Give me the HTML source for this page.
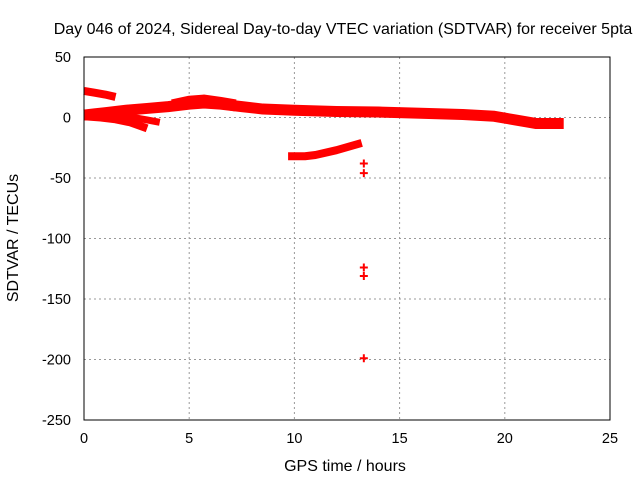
<!DOCTYPE html>
<html><head><meta charset="utf-8"><style>
body{margin:0;background:#fff}
svg{display:block;font-family:"Liberation Sans",sans-serif;font-size:14.5px}
.big{font-size:16px}
</style></head><body>
<svg width="640" height="480">
<text class="big" x="343" y="34" text-anchor="middle">Day 046 of 2024, Sidereal Day-to-day VTEC variation (SDTVAR) for receiver 5pta</text>
<g id="grid"></g>
<g id="marks"></g>
<rect x="84" y="57" width="526" height="363" fill="none" stroke="#000" stroke-width="1"/>
<g id="ticks"></g>
<text class="big" x="345" y="471" text-anchor="middle">GPS time / hours</text>
<text class="big" transform="translate(18,238) rotate(-90)" text-anchor="middle">SDTVAR / TECUs</text>
</svg>
<script>
const xTicks=[0,5,10,15,20,25];
const yTicks=[50,0,-50,-100,-150,-200,-250];
const trackUpperHours=[0,0.5,1,1.5];
const trackUpperValues=[22,20.5,19,17];
const trackMainHours=[0,0.5,1,2,3,4,5,5.7,6.5,7.5,8.5,10,12,14,16,18,19.5,20.5,21.5,22.8];
const trackMainValues=[2,3,4,6,7.5,9,11,12,11,9,7,6,5,4.5,3.5,2.5,1,-2,-5,-5];
const trackHumpHours=[4.2,5,5.7,6.5,7.2];
const trackHumpValues=[10,13,14,12,10];
const trackDipHours=[0,0.8,1.5,2.2,3];
const trackDipValues=[1,0,-1.5,-4,-9];
const trackDip2Hours=[1,2,3,3.6];
const trackDip2Values=[2,1,-2,-4];
const trackLowHours=[9.7,10.5,11,12,13.2];
const trackLowValues=[-32,-32,-31,-27,-21];
const pointHours=[13.3,13.3,13.3,13.3,13.3];
const pointValues=[-38,-46,-124,-131,-199];
const X=h=>84+h*526/25;
const Y=v=>57+(50-v)*363/300;
const NS="http://www.w3.org/2000/svg";
const grid=document.getElementById('grid'),ticks=document.getElementById('ticks'),marks=document.getElementById('marks');
function mk(tag,attrs,parent){const e=document.createElementNS(NS,tag);for(const k in attrs)e.setAttribute(k,attrs[k]);parent.appendChild(e);return e;}
xTicks.forEach(t=>{
 if(t>0&&t<25){const g=mk('line',{x1:X(t),x2:X(t),y1:57,y2:420,stroke:'#999','stroke-dasharray':'2,3'},grid);
 
 }
 const l=mk('text',{x:X(t),y:443,'text-anchor':'middle'},ticks);l.textContent=t;
 
 
});
yTicks.forEach(t=>{
 if(t<50&&t>-250){const g=mk('line',{x1:84,x2:610,y1:Y(t),y2:Y(t),stroke:'#999','stroke-dasharray':'2,3'},grid);
 
 }
 const l=mk('text',{x:71,y:Y(t)+5,'text-anchor':'end'},ticks);l.textContent=t;
 
 
});
function track(hs,vs,w,name){
 const p=mk('polyline',{points:hs.map((h,i)=>X(h)+','+Y(vs[i])).join(' '),fill:'none',stroke:'#f00','stroke-width':w,'stroke-linejoin':'round'},marks);
 
 
}
track(trackUpperHours,trackUpperValues,8,'track-upper');
track(trackMainHours,trackMainValues,11,'track-main');
track(trackHumpHours,trackHumpValues,12,'track-hump');
track(trackDipHours,trackDipValues,8,'track-dip');
track(trackDip2Hours,trackDip2Values,7,'track-dip-2');
track(trackLowHours,trackLowValues,8,'track-low');
pointHours.forEach((h,i)=>{
 const x=X(h),y=Y(pointValues[i]);
 const p=mk('path',{d:`M${x-4},${y}H${x+4}M${x},${y-4}V${y+4}`,stroke:'#f00','stroke-width':2},marks);
 
 
});
</script>
</body></html>
